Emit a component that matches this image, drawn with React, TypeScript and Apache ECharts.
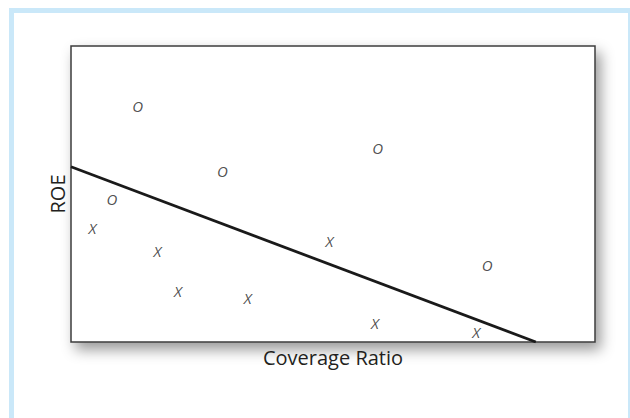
import React, { useEffect, useRef } from "react";
import * as echarts from "echarts";

// O-group points [coverage ratio, ROE] (arbitrary units 0-10)
const oPoints: [number, number][] = [
  [1.27, 7.97],
  [2.89, 5.79],
  [5.85, 6.54],
  [0.78, 4.83],
  [7.94, 2.6],
];

// X-group points
const xPoints: [number, number][] = [
  [0.41, 3.86],
  [1.65, 3.08],
  [2.04, 1.71],
  [3.37, 1.5],
  [4.93, 3.42],
  [5.8, 0.65],
  [7.73, 0.35],
];

// Discriminant line endpoints
const linePoints: [number, number][] = [
  [0, 5.92],
  [8.87, 0],
];

const xTitle = "Coverage Ratio";
const yTitle = "ROE";

const FONT = "'Open Sans', 'DejaVu Sans', sans-serif";

export default function App() {
  const ref = useRef<HTMLDivElement>(null);

  useEffect(() => {
    document.body.style.margin = "0";
    if (!ref.current) return;
    const chart = echarts.init(ref.current, null, { renderer: "svg" });

    const markerLabel = (txt: string) => ({
      show: true,
      position: "inside" as const,
      formatter: txt,
      fontStyle: "italic" as const,
      fontFamily: FONT,
      fontSize: 15,
      color: "#222222",
    });

    chart.setOption({
      animation: false,
      backgroundColor: "#ffffff",
      graphic: [
        {
          type: "rect",
          shape: { x: 11.5, y: 10.5, width: 619, height: 420 },
          style: { fill: "none", stroke: "#cae8f9", lineWidth: 5 },
          silent: true,
          z: 0,
        },
      ],
      grid: {
        left: 71,
        top: 46,
        width: 524,
        height: 296,
        show: true,
        backgroundColor: "#ffffff",
        borderColor: "#3c3c3c",
        borderWidth: 1.5,
        shadowBlur: 14,
        shadowColor: "rgba(0,0,0,0.4)",
        shadowOffsetX: 5,
        shadowOffsetY: 7,
      },
      xAxis: {
        type: "value",
        min: 0,
        max: 10,
        name: xTitle,
        nameLocation: "middle",
        nameGap: 5,
        nameTextStyle: { fontFamily: FONT, fontSize: 20, color: "#231f20", verticalAlign: "top" },
        axisLine: { show: false },
        axisTick: { show: false },
        axisLabel: { show: false },
        splitLine: { show: false },
      },
      yAxis: {
        type: "value",
        min: 0,
        max: 10,
        name: yTitle,
        nameLocation: "middle",
        nameGap: 4,
        nameTextStyle: { fontFamily: FONT, fontSize: 20, color: "#231f20" },
        axisLine: { show: false },
        axisTick: { show: false },
        axisLabel: { show: false },
        splitLine: { show: false },
      },
      series: [
        {
          type: "line",
          data: linePoints,
          showSymbol: false,
          symbol: "none",
          lineStyle: { color: "#1a1a1a", width: 2.8 },
          silent: true,
          z: 2,
        },
        {
          type: "scatter",
          data: oPoints,
          symbolSize: 1,
          itemStyle: { color: "transparent" },
          label: markerLabel("O"),
          z: 3,
        },
        {
          type: "scatter",
          data: xPoints,
          symbolSize: 1,
          itemStyle: { color: "transparent" },
          label: markerLabel("X"),
          z: 3,
        },
      ],
    });

    return () => chart.dispose();
  }, []);

  return <div ref={ref} style={{ width: 630, height: 418 }} />;
}
